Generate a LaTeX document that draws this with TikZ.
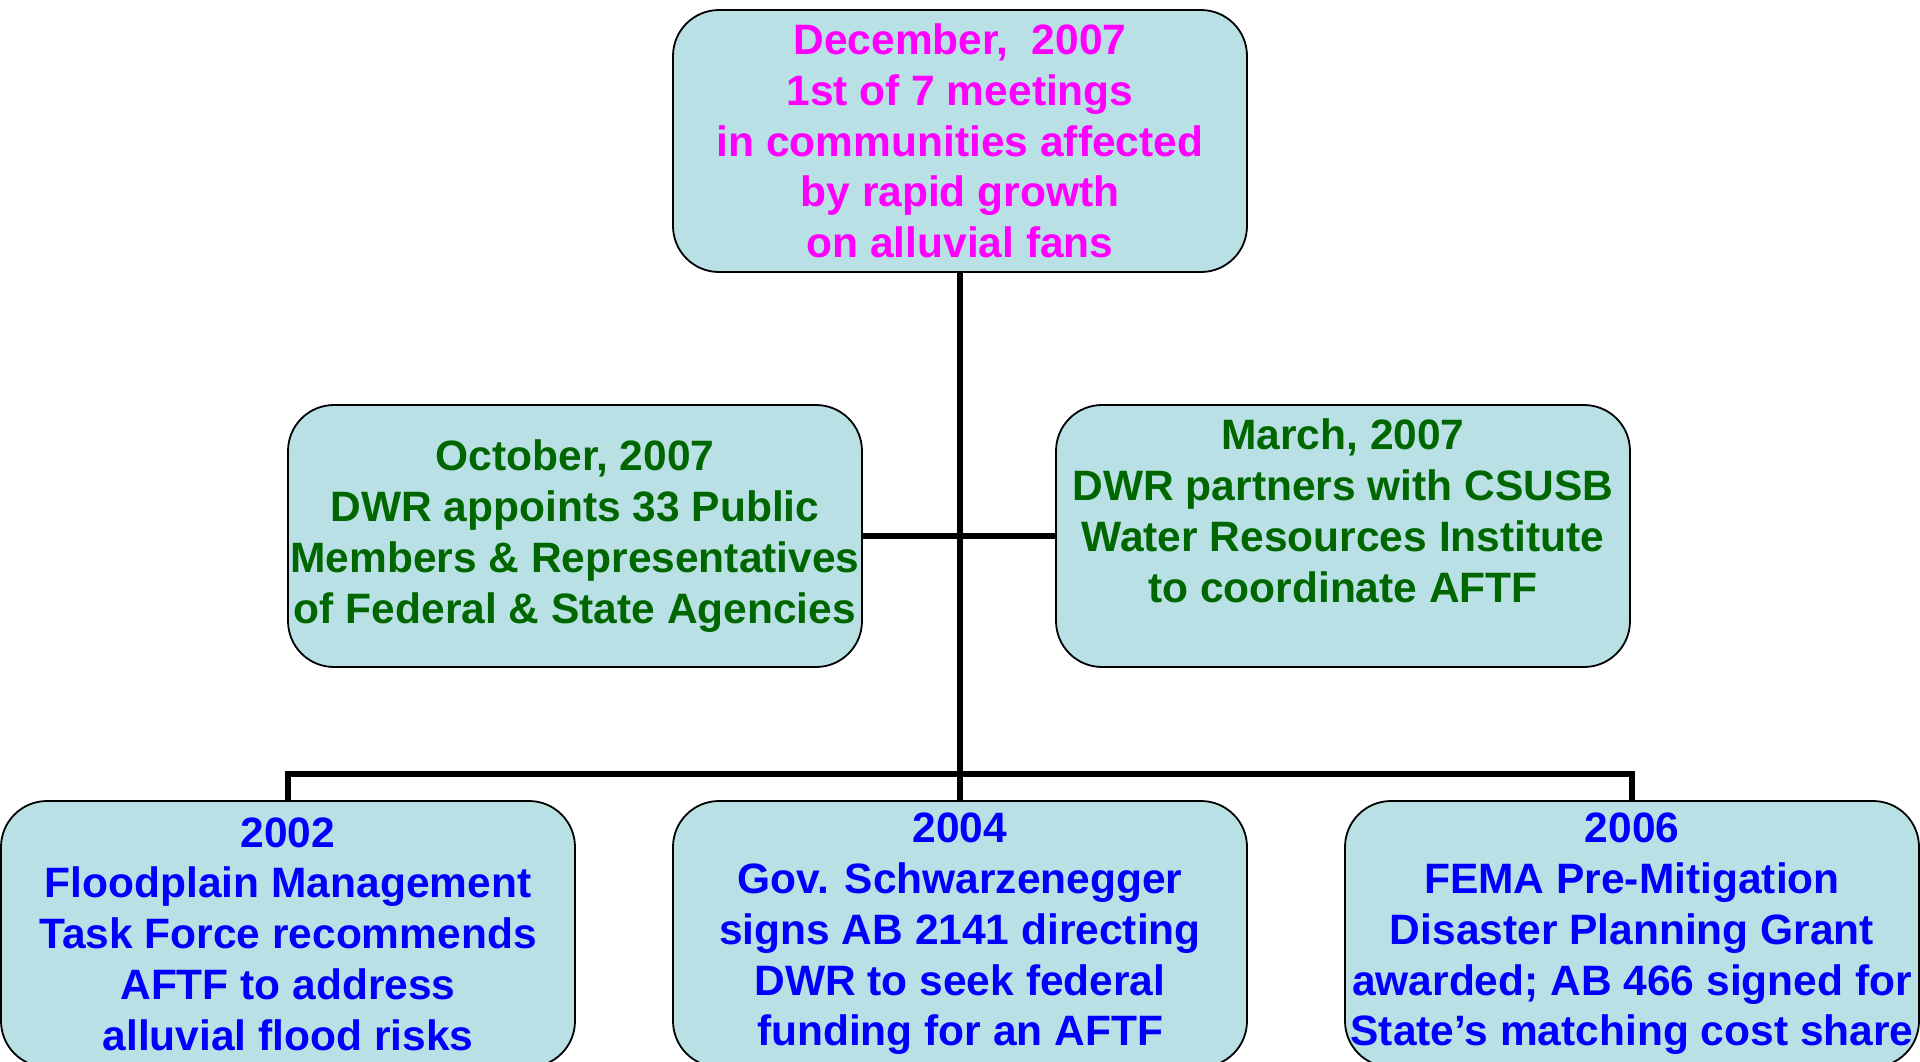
\documentclass[tikz,border=0pt]{standalone}
\usepackage{fontspec}
\setmainfont{Liberation Sans}
\definecolor{boxfill}{RGB}{185,224,228}
\definecolor{txtgreen}{RGB}{0,102,0}
\definecolor{txtblue}{RGB}{0,0,255}
\definecolor{txtmag}{RGB}{255,0,255}
\begin{document}
\begin{tikzpicture}[x=1pt,y=-1pt,
  evbox/.style={draw=black, line width=1.8pt, fill=boxfill, rounded corners=46pt,
    minimum width=574pt, minimum height=262pt, inner sep=0pt, align=center,
    font=\fontsize{42.5}{50.8}\selectfont\bfseries},
  conn/.style={draw=black, line width=6pt}]
\useasboundingbox (0,0) rectangle (1920,1061);
\node[evbox, text=txtmag] (top) at (960,141) {December,~ 2007\\1st of 7 meetings\\ in communities affected\\by rapid growth\\on alluvial fans};
\node[evbox, text=txtgreen] (midL) at (575,536) {October, 2007\\DWR appoints 33 Public \\Members \& Representatives\\of Federal \& State Agencies};
\node[evbox, text=txtgreen] (midR) at (1343,536) {March, 2007\\DWR partners with CSUSB\\Water Resources Institute\\to coordinate AFTF\\\mbox{}};
\node[evbox, text=txtblue, minimum height=266pt] (bot1) at (288,934) {2002\\Floodplain Management\\Task Force recommends\\AFTF to address\\ alluvial flood risks};
\node[evbox, text=txtblue, minimum height=266pt] (bot2) at (960,934) {2004\\Gov. Schwarzenegger \\signs AB 2141 directing\\DWR to seek federal\\ funding for an AFTF};
\node[evbox, text=txtblue, minimum height=266pt] (bot3) at (1632,934) {2006\\FEMA Pre-Mitigation\\Disaster Planning Grant \\awarded; AB 466 signed for\\State’s matching cost share};
\coordinate (busL) at (288,774);
\coordinate (busR) at (1632,774);
\draw[conn] (top.south) -- (bot2.north);
\draw[conn] (midL.east) -- (midR.west);
\draw[conn] (bot1.north) -- (busL) -- (busR) -- (bot3.north);
\end{tikzpicture}
\end{document}
